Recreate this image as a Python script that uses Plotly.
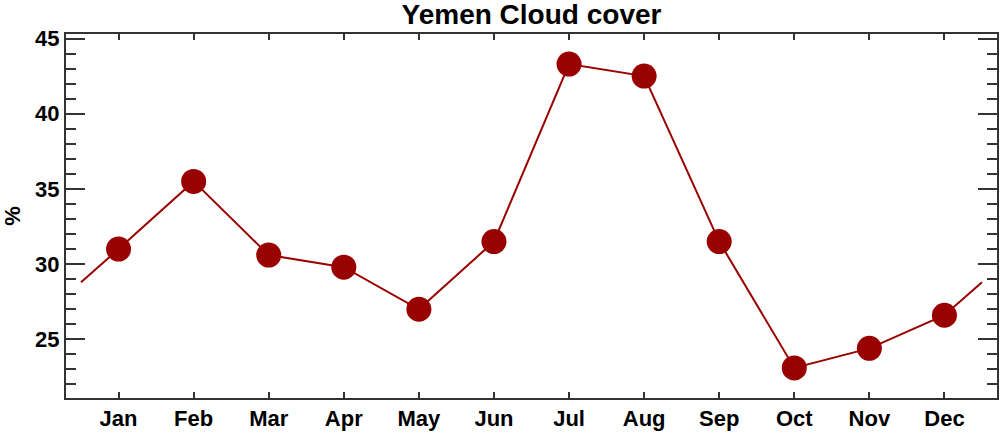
import plotly.graph_objects as go

months = ["Jan", "Feb", "Mar", "Apr", "May", "Jun", "Jul", "Aug", "Sep", "Oct", "Nov", "Dec"]
month_pos = list(range(1, 13))
cloud_cover = [31.0, 35.5, 30.6, 29.8, 27.0, 31.5, 43.3, 42.5, 31.5, 23.1, 24.4, 26.6]

# wrap-around edges (half-month before Jan / after Dec)
edge = (cloud_cover[0] + cloud_cover[-1]) / 2
line_x = [0.5] + month_pos + [12.5]
line_y = [edge] + cloud_cover + [edge]

y_range = [21.1, 45.3]
y_ticks = [25, 30, 35, 40, 45]

color = "#990000"
axis_col = "#333333"
font = "Liberation Sans, Arial, sans-serif"

fig = go.Figure()
fig.add_trace(go.Scatter(x=line_x, y=line_y, mode="lines",
                         line=dict(color=color, width=2), showlegend=False, hoverinfo="skip"))
fig.add_trace(go.Scatter(x=month_pos, y=cloud_cover, mode="markers",
                         marker=dict(color=color, size=25), showlegend=False))
# invisible trace to carry the mirrored right axis
fig.add_trace(go.Scatter(x=month_pos, y=cloud_cover, mode="markers", yaxis="y2",
                         marker=dict(opacity=0), showlegend=False, hoverinfo="skip"))

fig.update_layout(
    width=1000, height=433,
    margin=dict(l=66, r=3, t=34, b=35, autoexpand=False),
    plot_bgcolor="white", paper_bgcolor="white",
    title=dict(text="<b>Yemen Cloud cover</b>", x=0.5, xref="paper", xanchor="center",
               y=1 - 14 / 433, yref="container", yanchor="middle",
               font=dict(family=font, size=28, color="black")),
    font=dict(family=font, color="black"),
    xaxis=dict(
        range=[0.3, 12.7], tickmode="array", tickvals=month_pos,
        ticktext=[f"<b>{m}</b>" for m in months],
        ticks="inside", ticklen=6, tickwidth=1.5, tickcolor=axis_col,
        showline=True, linecolor=axis_col, linewidth=2, mirror="ticks",
        showgrid=False, zeroline=False, tickfont=dict(size=22, family=font),
        automargin=False,
    ),
    yaxis=dict(
        range=y_range, tickmode="array", tickvals=y_ticks,
        ticktext=[f"<b>{v}</b>" for v in y_ticks],
        ticks="inside", ticklen=19, tickwidth=1.5, tickcolor=axis_col,
        minor=dict(dtick=1, tick0=0, ticks="inside", ticklen=10, tickwidth=1.5,
                   tickcolor=axis_col, showgrid=False),
        showline=True, linecolor=axis_col, linewidth=2, mirror=True,
        showgrid=False, zeroline=False, tickfont=dict(size=22, family=font),
        title=dict(text="<b>%</b>", font=dict(size=22, family=font), standoff=12),
        automargin=False,
    ),
    yaxis2=dict(
        range=y_range, overlaying="y", side="right", tickmode="array", tickvals=y_ticks,
        showticklabels=False,
        ticks="inside", ticklen=19, tickwidth=1.5, tickcolor=axis_col,
        minor=dict(dtick=1, tick0=0, ticks="inside", ticklen=10, tickwidth=1.5,
                   tickcolor=axis_col, showgrid=False),
        showline=False, showgrid=False, zeroline=False, automargin=False,
    ),
)

fig.write_html(
    "out.html",
    config={"responsive": False, "displayModeBar": False},
    post_script="document.body.style.margin='0px';document.body.style.overflow='hidden';",
)
